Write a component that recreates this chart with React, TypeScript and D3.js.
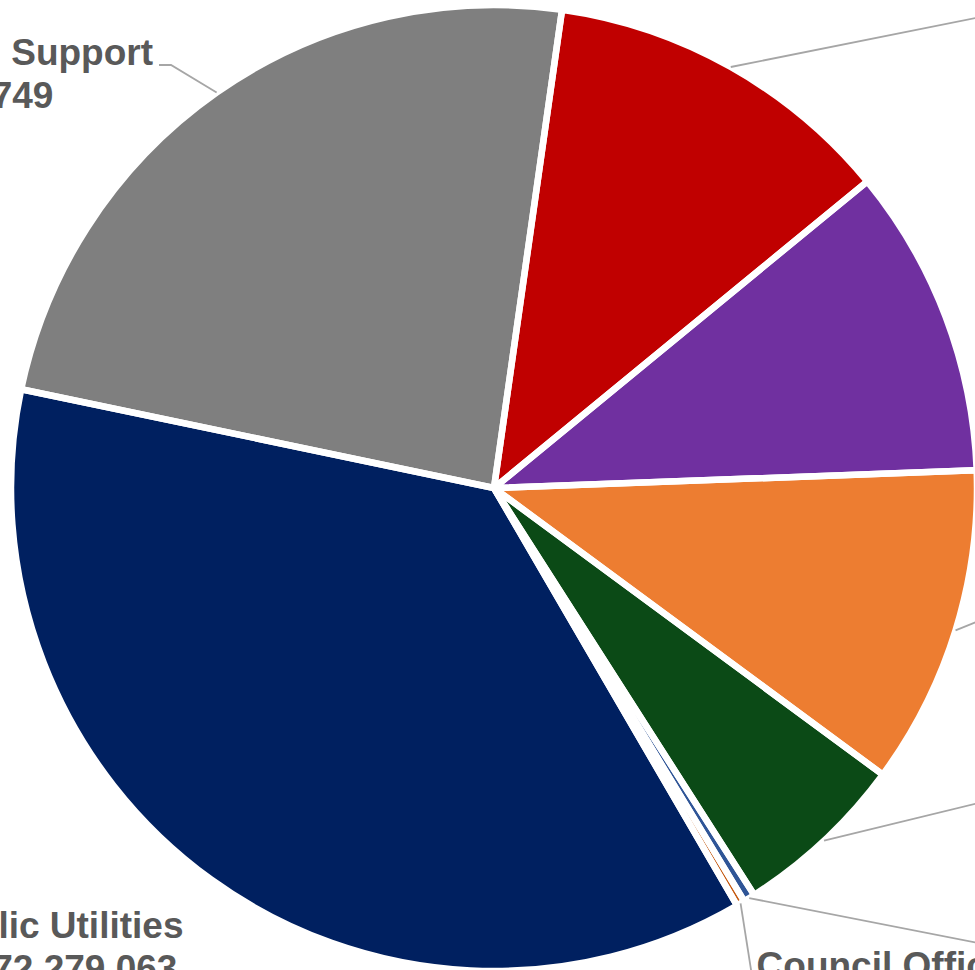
import React, { useMemo } from "react";
import * as d3 from "d3";

// ---- data ----
const categories = [
  "Community Services",
  "Public Safety",
  "Infrastructure Services",
  "Financial Services",
  "Office of the Mayor",
  "Council Office",
  "Public Utilities",
  "Governance and Support",
];
const values = [152059318, 133454602, 137748915, 75134972, 5008797, 3577806, 472279063, 308757749];
const currencyPrefix = "R ";

// ---- styles ----
const colors = ["#C00000", "#7030A0", "#ED7D31", "#0B4A16", "#2F5597", "#C55A11", "#002060", "#7F7F7F"];
const W = 975;
const H = 970;
const CX = 494;
const CY = 488;
const R = 483;
const START_DEG = 8.1;
const FONT_SIZE = 37;
const LINE_GAP = 43;
const TEXT_COLOR = "#595959";
const LEADER_COLOR = "#A6A6A6";

// label layout: centre x, first baseline y, extra leader waypoints (null = no leader)
const labelLayout = [
  { x: 1280, y: -20, leader: [[1110, -9]] },
  { x: 1250, y: 300, leader: null },
  { x: 1240, y: 570, leader: [[1060, 588]] },
  { x: 1270, y: 760, leader: [[1110, 771]] },
  { x: 1280, y: 960, leader: [[1110, 969]] },
  { x: 882, y: 978, leader: [[755, 995]] },
  { x: 56, y: 938, leader: null },
  { x: -68, y: 65, leader: [[171, 65], [159, 65]] },
];

const fmt = (v: number) => currencyPrefix + d3.format(",")(v).replace(/,/g, " ");

export default function App() {
  const arcs = useMemo(() => {
    const start = (START_DEG * Math.PI) / 180;
    const pie = d3
      .pie<number>()
      .sort(null)
      .value((d) => d)
      .startAngle(start)
      .endAngle(start + 2 * Math.PI);
    return pie(values);
  }, []);

  const arcGen = d3.arc<d3.PieArcDatum<number>>().innerRadius(0).outerRadius(R);
  const rimPoint = (a: d3.PieArcDatum<number>) => {
    const m = (a.startAngle + a.endAngle) / 2;
    return [CX + R * Math.sin(m), CY - R * Math.cos(m)];
  };
  const line = d3.line();

  return (
    <svg
      width={W}
      height={H}
      viewBox={`0 0 ${W} ${H}`}
      style={{ position: "absolute", left: 0, top: 0, display: "block", background: "#fff" }}
      fontFamily="'Liberation Sans', Arial, sans-serif"
    >
      <rect width={W} height={H} fill="#fff" />
      <g transform={`translate(${CX},${CY})`}>
        {arcs.map((a, i) => (
          <path key={"f" + i} d={arcGen(a) || ""} fill={colors[i]} />
        ))}
        {arcs.map((a, i) => (
          <path
            key={"s" + i}
            d={arcGen(a) || ""}
            fill="none"
            stroke="#fff"
            strokeWidth={6.5}
            strokeLinejoin="round"
          />
        ))}
      </g>
      <g fill="none" stroke={LEADER_COLOR} strokeWidth={1.8}>
        {arcs.map((a, i) => {
          const lay = labelLayout[i];
          if (!lay.leader) return null;
          const pts = [rimPoint(a), ...lay.leader] as [number, number][];
          return <path key={"l" + i} d={line(pts) || ""} />;
        })}
      </g>
      <g fill={TEXT_COLOR} fontSize={FONT_SIZE} fontWeight="bold" textAnchor="middle">
        {categories.map((c, i) => {
          const lay = labelLayout[i];
          return (
            <text key={"t" + i} x={lay.x} y={lay.y}>
              <tspan x={lay.x} y={lay.y}>{c}</tspan>
              <tspan x={lay.x} y={lay.y + LINE_GAP}>{fmt(values[i])}</tspan>
            </text>
          );
        })}
      </g>
    </svg>
  );
}
